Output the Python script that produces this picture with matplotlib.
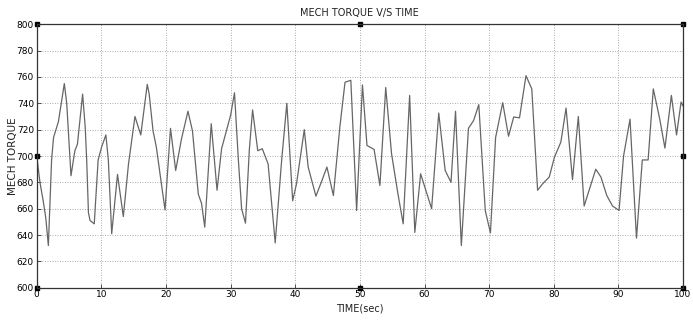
import matplotlib
matplotlib.use("Agg")
import matplotlib.pyplot as plt

time_sec = [0, 0.5, 1.0, 1.4, 1.8, 2.3, 2.6, 3.35, 4.27, 4.64, 5.3, 5.9, 6.3, 7.1, 7.5, 7.73,
            8.0, 8.25, 8.9, 9.5, 10.05, 10.7, 11.08, 11.6, 12.5, 13.4, 14.2, 14.7, 15.2, 16.1,
            17.1, 17.4, 18.0, 18.5, 19.85, 20.7, 21.5, 22.4, 23.4, 24.1, 25.0, 25.5, 26.0, 27.0,
            27.9, 28.6, 29.5, 30.0, 30.6, 31.2, 31.7, 32.3, 32.9, 33.4, 34.2, 34.9, 35.8, 36.9,
            37.9, 38.7, 39.6, 40.2, 41.4, 42.0, 43.2, 44.1, 44.9, 45.9, 46.9, 47.7, 48.6, 49.5,
            50.4, 51.1, 52.2, 53.1, 54.0, 54.9, 55.9, 56.7, 57.7, 58.5, 59.4, 60.4, 61.1, 62.2,
            63.2, 64.1, 64.8, 65.7, 66.8, 67.6, 68.4, 69.4, 70.2, 71.0, 72.1, 73.0, 73.8, 74.7,
            75.7, 76.6, 77.5, 78.3, 79.3, 80.1, 81.1, 81.9, 82.9, 83.8, 84.7, 85.6, 86.5, 87.3,
            88.2, 89.1, 90.1, 90.8, 91.8, 92.8, 93.7, 94.6, 95.4, 96.4, 97.2, 98.2, 99.0, 99.7, 100]

mech_torque = [700, 680, 666, 653, 632, 697, 714, 726, 755, 740, 685, 704, 709, 747, 722, 697,
               657, 651, 648.5, 697, 707, 716, 697, 641, 686, 654, 694, 712, 730, 716,
               754.4, 747, 719, 707, 659, 721, 689, 713, 734, 719, 671, 664, 646, 724.5,
               674, 705.5, 722, 731, 748, 697, 660, 649, 705, 735, 704, 705.5, 694, 634,
               697, 740, 666, 679, 720, 691.6, 669.5, 681, 691.6, 670, 722, 756, 757.5, 658.6,
               754, 708, 705, 677.6, 752, 701.7, 671, 648.5, 746, 642, 686.5, 671, 660, 732.6,
               689, 680, 734, 632, 721, 727, 739, 658.6, 641.6, 714, 740.5, 715, 729.6, 729,
               761, 751, 674, 679, 684, 699, 710.6, 736.4, 682, 730, 662, 676, 690, 684,
               670, 662, 658.6, 700, 728, 637.6, 697, 697, 751, 728, 706, 746, 716, 741, 738]

x_ticks = list(range(0, 101, 10))
y_ticks = list(range(600, 801, 20))

narrow = "Liberation Sans Narrow"

fig = plt.figure(figsize=(6.93, 3.20), dpi=100)
ax = fig.add_axes([0.053, 0.101, 0.9326, 0.823])
ax.plot(time_sec, mech_torque, color="#666666", linewidth=0.9)
ax.set_xlim(0, 100)
ax.set_ylim(600, 800)
ax.set_xticks(x_ticks)
ax.set_yticks(y_ticks)
ax.set_xticklabels([str(v) for v in x_ticks], fontfamily=narrow, fontsize=6.5)
ax.set_yticklabels([str(v) for v in y_ticks], fontfamily=narrow, fontsize=6.5)
ax.tick_params(direction="in", length=3, width=0.6, color="#333333", pad=2)
ax.grid(True, linestyle=(0, (1, 2)), color="#909090", linewidth=0.6)
for s in ax.spines.values():
    s.set_color("#333333")
    s.set_linewidth(0.9)

ax.set_title("MECH TORQUE V/S TIME", fontfamily=narrow, fontsize=7, pad=6, color="#222222")
ax.set_xlabel("TIME(sec)", fontfamily=narrow, fontsize=7, labelpad=3, color="#222222")
ax.set_ylabel("MECH TORQUE", fontfamily="DejaVu Sans", fontsize=7.5, color="#222222")
ax.yaxis.set_label_coords(-0.029, 0.5)

# selection handles at corners and mid points of the axes box
hx = [0, 0.5, 1, 0, 1, 0, 0.5, 1]
hy = [1, 1, 1, 0.5, 0.5, 0, 0, 0]
ax.plot(hx, hy, linestyle="none", marker="s", markersize=3.5, color="black",
        transform=ax.transAxes, clip_on=False)

fig.savefig("out.png", dpi=100, facecolor="white")
